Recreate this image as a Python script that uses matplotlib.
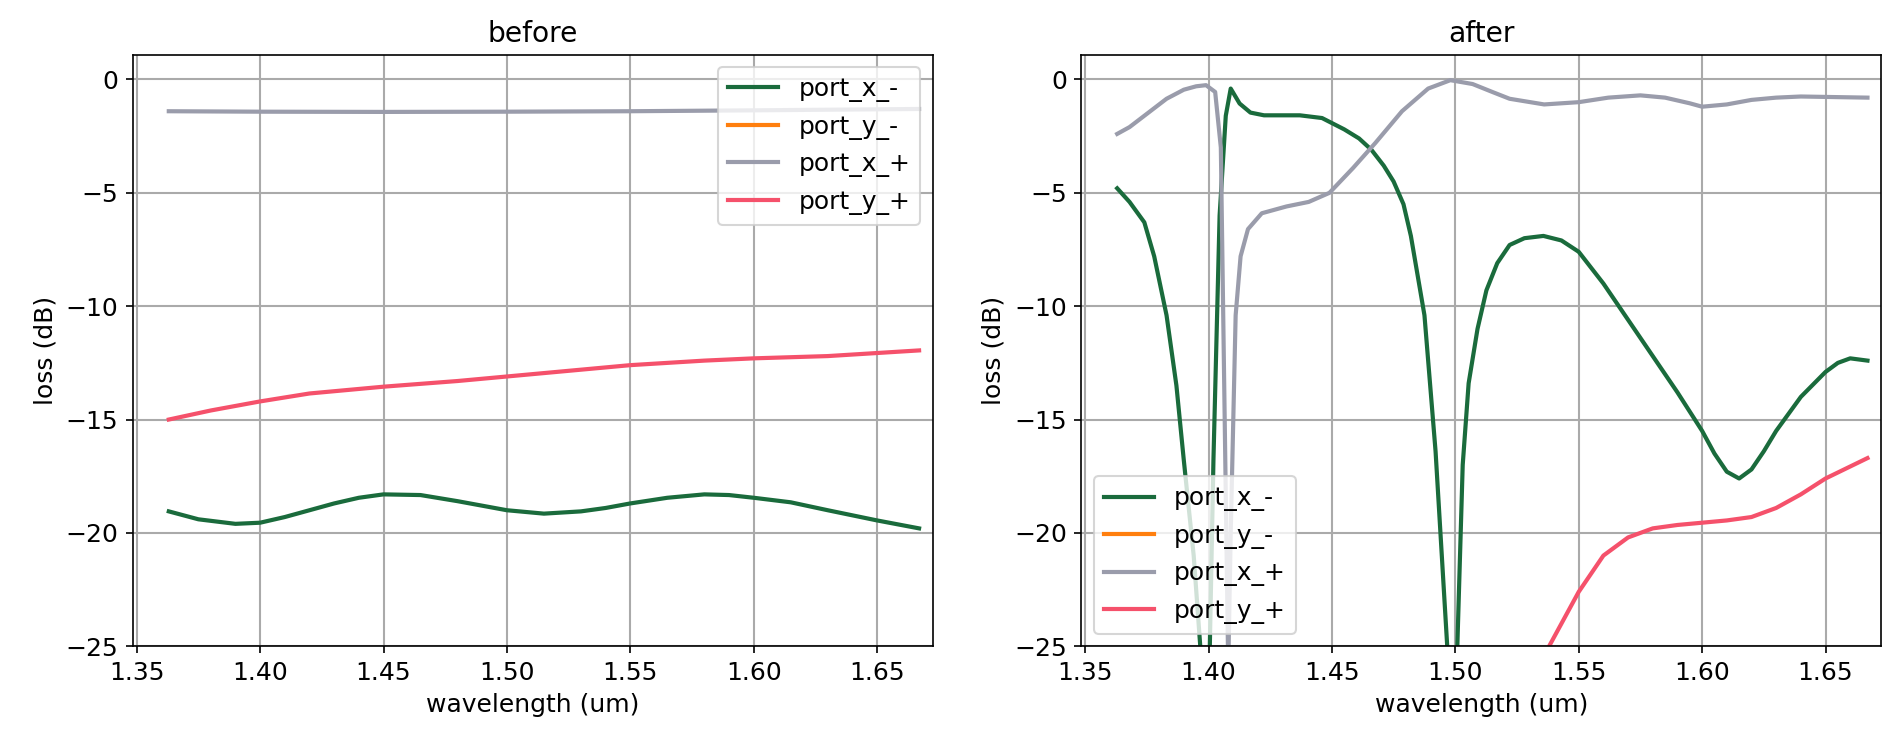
import matplotlib
matplotlib.use("Agg")
import matplotlib.pyplot as plt
import numpy as np

labels = ["port_x_-", "port_y_-", "port_x_+", "port_y_+"]
colors = ["#1a6b3c", "#ff7f0e", "#9a9cab", "#f5516b"]

# before
b_gx_w = [1.363, 1.40, 1.45, 1.50, 1.55, 1.60, 1.667]
b_gx_v = [-1.4, -1.42, -1.43, -1.42, -1.4, -1.36, -1.3]
b_r_w = [1.363, 1.38, 1.40, 1.42, 1.45, 1.48, 1.50, 1.53, 1.55, 1.58, 1.60, 1.63, 1.667]
b_r_v = [-15.0, -14.6, -14.2, -13.85, -13.55, -13.3, -13.1, -12.8, -12.6, -12.4, -12.3, -12.2, -11.95]
b_g_w = [1.363, 1.375, 1.39, 1.40, 1.41, 1.42, 1.43, 1.44, 1.45, 1.465, 1.48, 1.49, 1.50, 1.515, 1.53, 1.54, 1.55, 1.565, 1.58, 1.59, 1.60, 1.615, 1.63, 1.65, 1.667]
b_g_v = [-19.05, -19.4, -19.6, -19.55, -19.3, -19.0, -18.7, -18.45, -18.3, -18.33, -18.6, -18.8, -19.0, -19.15, -19.05, -18.9, -18.7, -18.45, -18.3, -18.33, -18.45, -18.65, -19.0, -19.45, -19.8]

# after
a_g_w = [1.363, 1.368, 1.374, 1.378, 1.383, 1.387, 1.390, 1.394, 1.397, 1.400, 1.402, 1.4045, 1.407, 1.409, 1.4126, 1.417, 1.4225, 1.437, 1.446,
         1.455, 1.461, 1.466, 1.471, 1.475, 1.479, 1.482, 1.4875, 1.492, 1.497, 1.500, 1.503, 1.5054, 1.509, 1.5126, 1.517, 1.522, 1.528, 1.5357, 1.543, 1.55, 1.56, 1.57, 1.58,
         1.59, 1.60, 1.605, 1.61, 1.615, 1.62, 1.625, 1.63, 1.64, 1.65, 1.655, 1.66, 1.667]
a_g_v = [-4.8, -5.4, -6.3, -7.8, -10.4, -13.5, -16.8, -21.0, -25.5, -28.0, -16.8, -6.0, -1.6, -0.4, -1.06, -1.46, -1.58, -1.58, -1.7,
         -2.2, -2.6, -3.1, -3.8, -4.5, -5.5, -6.9, -10.4, -16.4, -25.5, -28.0, -17.0, -13.4, -11.0, -9.3, -8.1, -7.3, -7.0, -6.9, -7.1, -7.6, -9.0, -10.6, -12.2,
         -13.8, -15.5, -16.5, -17.3, -17.6, -17.2, -16.4, -15.5, -14.0, -12.9, -12.5, -12.3, -12.4]
a_x_w = [1.363, 1.368, 1.374, 1.383, 1.390, 1.395, 1.399, 1.4027, 1.405, 1.408, 1.409, 1.411, 1.413, 1.416, 1.4216, 1.4316, 1.4406, 1.449,
         1.4586, 1.4676, 1.4784, 1.489, 1.498, 1.507, 1.515, 1.522, 1.536, 1.55, 1.562, 1.575, 1.585, 1.595, 1.60, 1.61, 1.62, 1.63, 1.64, 1.667]
a_x_v = [-2.4, -2.1, -1.6, -0.85, -0.45, -0.3, -0.25, -0.55, -3.0, -26.0, -20.0, -10.4, -7.8, -6.6, -5.9, -5.6, -5.4, -5.0,
         -3.9, -2.8, -1.4, -0.4, -0.03, -0.2, -0.55, -0.85, -1.1, -1.0, -0.8, -0.7, -0.8, -1.05, -1.2, -1.1, -0.9, -0.8, -0.75, -0.8]
a_r_w = [1.52, 1.538, 1.55, 1.56, 1.57, 1.58, 1.59, 1.60, 1.61, 1.62, 1.63, 1.64, 1.65, 1.667]
a_r_v = [-28.5, -25.0, -22.6, -21.0, -20.2, -19.8, -19.65, -19.55, -19.45, -19.3, -18.9, -18.3, -17.6, -16.7]

plt.rcParams['font.size'] = 12
fig, axes = plt.subplots(1, 2, figsize=(12.667, 4.987), dpi=150)

def draw(ax, data, title, loc):
    for (w, v), lab, c in zip(data, labels, colors):
        ax.plot(w, v, color=c, lw=2.0, label=lab)
    ax.set_ylim(-25, 1.1)
    ax.set_xlim(1.3485, 1.6725)
    ax.set_title(title, fontsize=13.5)
    ax.set_xlabel("wavelength (um)")
    ax.set_ylabel("loss (dB)")
    ax.grid(True, color="#aaaaaa", lw=1.0)
    ax.legend(loc=loc)

draw(axes[0], [(b_g_w, b_g_v), ([], []), (b_gx_w, b_gx_v), (b_r_w, b_r_v)], "before", "upper right")
draw(axes[1], [(a_g_w, a_g_v), ([], []), (a_x_w, a_x_v), (a_r_w, a_r_v)], "after", "lower left")
fig.subplots_adjust(left=0.070, right=0.990, bottom=0.136, top=0.927, wspace=0.186)
fig.savefig("out.png")
